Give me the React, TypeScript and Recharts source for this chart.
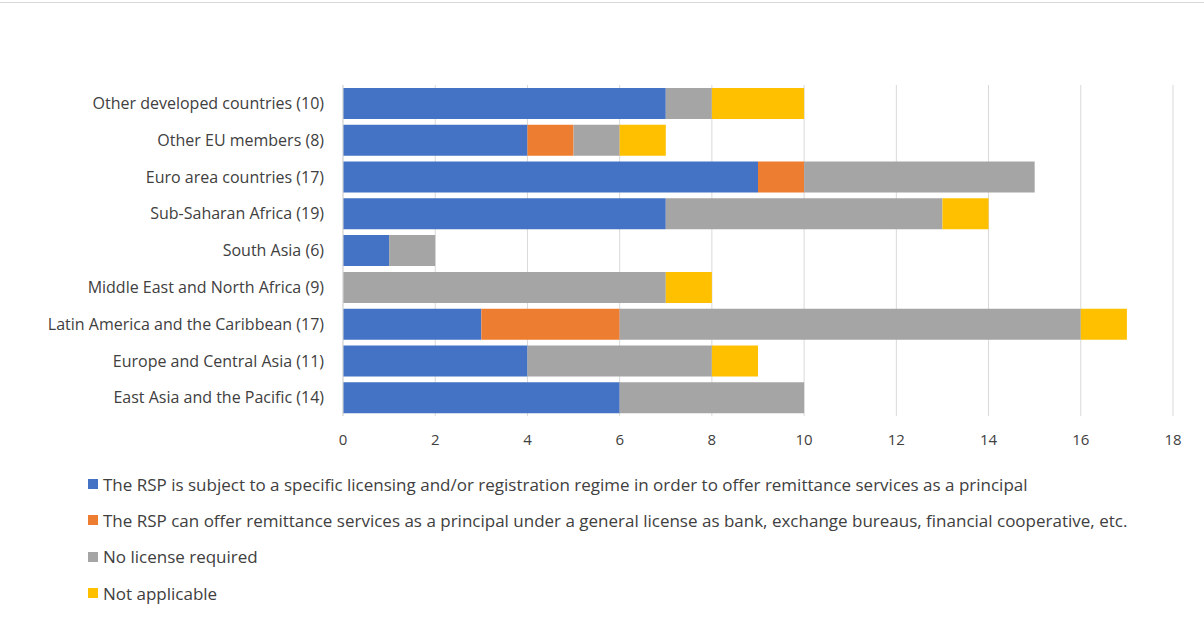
import { Bar, BarChart, CartesianGrid, XAxis, YAxis } from "recharts";

const regions = [
  "Other developed countries (10)",
  "Other EU members (8)",
  "Euro area countries (17)",
  "Sub-Saharan Africa (19)",
  "South Asia (6)",
  "Middle East and North Africa (9)",
  "Latin America and the Caribbean (17)",
  "Europe and Central Asia (11)",
  "East Asia and the Pacific (14)",
];

const specificLicense = [7, 4, 9, 7, 1, 0, 3, 4, 6];
const generalLicense = [0, 1, 1, 0, 0, 0, 3, 0, 0];
const noLicense = [1, 1, 5, 6, 1, 7, 10, 4, 4];
const notApplicable = [2, 1, 0, 1, 0, 1, 1, 1, 0];

const xTicks = [0, 2, 4, 6, 8, 10, 12, 14, 16, 18];

const SERIES = [
  {
    key: "specific",
    name: "The RSP is subject to a specific licensing and/or registration regime in order to offer remittance services as a principal",
    color: "#4472C4",
  },
  {
    key: "general",
    name: "The RSP can offer remittance services as a principal under a general license as bank, exchange bureaus, financial cooperative, etc.",
    color: "#ED7D31",
  },
  { key: "none", name: "No license required", color: "#A5A5A5" },
  { key: "na", name: "Not applicable", color: "#FFC000" },
];

const data = regions.map((region, i) => ({
  region,
  specific: specificLicense[i],
  general: generalLicense[i],
  none: noLicense[i],
  na: notApplicable[i],
}));

const FONT = "'Open Sans', 'Noto Sans', sans-serif";

function LegendList() {
  return (
    <div
      style={{
        position: "absolute",
        left: 88,
        top: 466,
        fontFamily: FONT,
        fontSize: 17,
        color: "#404040",
      }}
    >
      {SERIES.map((s) => (
        <div key={s.key} style={{ display: "flex", alignItems: "center", height: 36.3 }}>
          <span
            style={{
              display: "inline-block",
              width: 10,
              height: 10,
              background: s.color,
              marginRight: 5,
            }}
          />
          <span style={{ whiteSpace: "nowrap" }}>{s.name}</span>
        </div>
      ))}
    </div>
  );
}

export default function App() {
  return (
    <div
      style={{
        position: "fixed",
        left: 0,
        top: 0,
        width: 1204,
        height: 622,
        background: "#fff",
      }}
    >
      <div style={{ position: "absolute", left: 0, top: 2, width: 1204, height: 1, background: "#d9d9d9" }} />
      <BarChart
        width={1204}
        height={622}
        data={data}
        layout="vertical"
        margin={{ top: 85, right: 31, left: 0, bottom: 176 }}
        barSize={31}
      >
        <CartesianGrid horizontal={false} stroke="#d9d9d9" />
        <XAxis
          type="number"
          domain={[0, 18]}
          ticks={xTicks}
          axisLine={false}
          tickLine={false}
          height={30}
          tick={{ fill: "#404040", fontSize: 15, fontFamily: FONT }}
          tickMargin={12}
        />
        <YAxis
          type="category"
          dataKey="region"
          width={343}
          axisLine={{ stroke: "#d9d9d9" }}
          tickLine={false}
          tick={{ fill: "#404040", fontSize: 16, fontFamily: FONT }}
          tickMargin={13}
        />
        {SERIES.map((s) => (
          <Bar key={s.key} dataKey={s.key} name={s.name} stackId="a" fill={s.color} isAnimationActive={false} />
        ))}
      </BarChart>
      <LegendList />
    </div>
  );
}
